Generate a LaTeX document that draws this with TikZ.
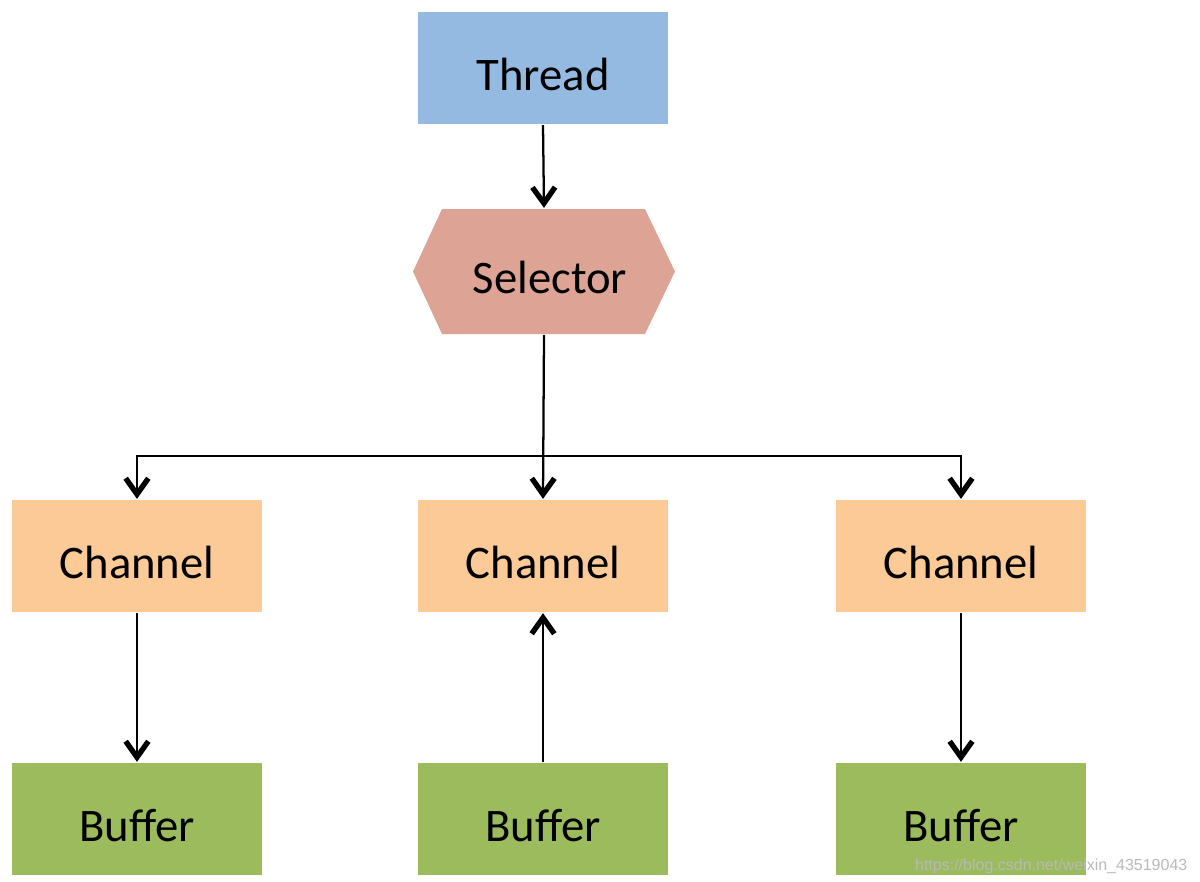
\documentclass[tikz,border=0pt]{standalone}
\usepackage{fontspec}
\setmainfont{Carlito}
\newfontfamily\wmfont{Liberation Sans}
\usetikzlibrary{arrows.meta}

\definecolor{threadblue}{RGB}{149,186,226}
\definecolor{selectorred}{RGB}{221,164,150}
\definecolor{channelorange}{RGB}{252,202,150}
\definecolor{buffergreen}{RGB}{156,187,92}

\tikzset{every picture/.style={line width=1.7pt}}
\tikzset{
  box/.style={minimum width=187.5pt, minimum height=84pt, inner sep=0pt,
    text height=33pt, text depth=0pt, font=\fontsize{35}{42}\selectfont},
  link/.style={-{Straight Barb[length=12pt,width=17pt,line width=4pt]}}
}

\begin{document}
\begin{tikzpicture}[x=0.75pt,y=0.75pt,yscale=-1,xscale=1]
            \useasboundingbox (0,0) rectangle (1200,882);
            % hexagon behind the selector text
            \fill [selectorred] (413,271.5) -- (442,209) -- (645,209) -- (675,271.5) -- (645,334) -- (442,334) -- cycle;
            \node (thread) [box, fill=threadblue] at (543,68) {Thread};
            \node (sel) [box, minimum width=196.5pt, minimum height=93.75pt] at (544,271.5) {\hspace*{9pt}Selector};
            \node (lc) [box, fill=channelorange] at (137,556) {Channel};
            \node (mc) [box, fill=channelorange] at (543,556) {Channel};
            \node (rc) [box, fill=channelorange] at (961,556) {Channel};
            \node (lb) [box, fill=buffergreen] at (137,819) {Buffer};
            \node (mb) [box, fill=buffergreen] at (543,819) {Buffer};
            \node (rb) [box, fill=buffergreen] at (961,819) {Buffer};
            \coordinate (split) at (543,456);
            \draw [link] (thread.south) -- (sel.north);
            \draw [link] (sel.south) -- (mc.north);
            \draw [link] (split) -| (lc.north);
            \draw [link] (split) -| (rc.north);
            \draw [link] (lc.south) -- (lb.north);
            \draw [link] (mb.north) -- (mc.south);
            \draw [link] (rc.south) -- (rb.north);
            \draw (914,870) node [anchor=base west][inner sep=0pt][text=gray!55] {\wmfont\fontsize{12}{14}\selectfont https://blog.csdn.net/weixin\_43519043};
\end{tikzpicture}
\end{document}
